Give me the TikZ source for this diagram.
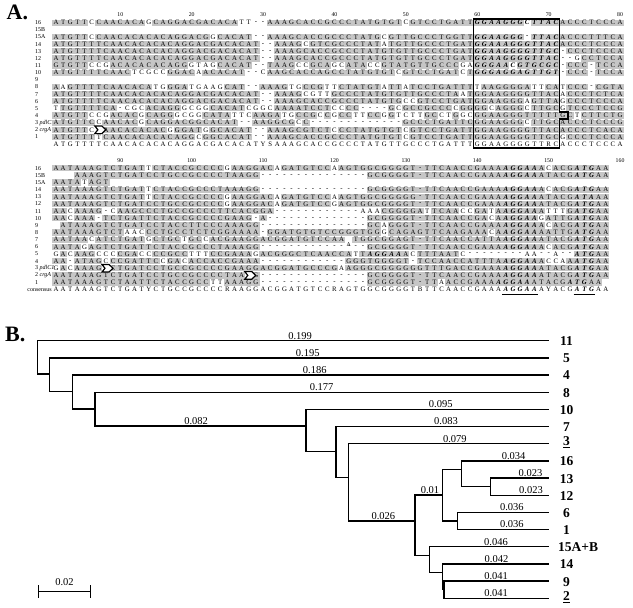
\documentclass[tikz,border=0pt]{standalone}
\usepackage{fontspec}
\setmainfont{Liberation Serif}
\usepackage{tikz}

% one alignment row: tag, base y, row index, letters
% upper case = shaded, lower case = plain, - gap, = shaded gap, . empty, > marker cell, ! bold on/off
\newcount\seqcol
\newif\ifseqbold
\newcommand\seqrow[4]{\seqcol=0 \seqboldfalse\def\seqtag{#1}%
  \pgfmathsetmacro\rowy{#2+#3*7.14}\seqread#4\relax}
\def\seqread#1{\ifx#1\relax\else\seqcell#1\expandafter\seqread\fi}
\def\seqcell#1{\ifx#1!\ifseqbold\seqboldfalse\else\seqboldtrue\fi
  \else\advance\seqcol by 1 \pgfmathsetmacro\cx{56+(\the\seqcol-1)*7.14}\seqput#1\fi}
\def\seqput#1{\ifx#1.\else\ifx#1>\else\ifx#1-\seqchar{-}\else\ifx#1=\seqshade\seqchar{-}\else
  \ifnum`#1=\lccode`#1\relax\seqchar{\uppercase{#1}}\else\seqshade\seqchar{#1}\fi\fi\fi\fi\fi}
\def\seqshade{\fill[seqgray] (\cx-3.6,\rowy-3.1) rectangle (\cx+3.6,\rowy+3.1);}
\def\seqchar#1{\ifseqbold\node[seqtxt,seqbf] (s\seqtag-\the\seqcol) at (\cx,\rowy) {#1};%
  \else\node[seqtxt] (s\seqtag-\the\seqcol) at (\cx,\rowy) {#1};\fi}
\newcommand\seqchev[3]{\pgfmathsetmacro\cx{56+(#1-1)*7.14}\pgfmathsetmacro\rowy{#2+#3*7.14}%
  \draw[chev] (\cx-4,\rowy-3.8) -- (\cx+3,\rowy-3.8) -- (\cx+7,\rowy) -- (\cx+3,\rowy+3.8) -- (\cx-4,\rowy+3.8) -- (\cx-1,\rowy) -- cycle;}

\begin{document}
\begin{tikzpicture}[x=1pt, y=-1pt,
	seqgray/.style={fill=gray!45},
	seqtxt/.style={font=\fontsize{6.8}{7}\selectfont, inner sep=0pt},
	seqbf/.style={font=\fontsize{6.8}{7}\selectfont\bfseries\itshape},
	rowlab/.style={font=\fontsize{6}{7}\selectfont, inner sep=0pt, anchor=west},
	rul/.style={font=\fontsize{5.8}{6}\selectfont, inner sep=0pt},
	chev/.style={draw, fill=white, line width=1.2pt, line join=miter},
	boxln/.style={draw, line width=1.3pt},
	panel/.style={font=\fontsize{22}{24}\selectfont\bfseries, inner sep=0pt, anchor=west},
	br/.style={line width=1.3pt, line cap=rect},
	bl/.style={font=\fontsize{10.5}{11}\selectfont, anchor=south, inner sep=0.9pt},
	leaf/.style={font=\fontsize{13.5}{14}\selectfont\bfseries, inner sep=0pt}]
	\useasboundingbox (0,0) rectangle (633,608);

	\node[panel] (pA) at (6.5,12.5) {A.};
	\node[panel] (pB) at (5,334) {B.};

	% block 1
	\foreach \n in {10,20,...,80}
		\node[rul] (ra\n) at ({56+(\n-1)*7.14},15) {\n};
	\foreach \lab [count=\k from 0] in {16,15B,15A,14,13,12,11,10,9,8,7,6,5,4,{3 \textit{pdlC1}},{2 \textit{crgA}},1}
		\node[rowlab] (la\k) at (35,{22.7+\k*7.14}) {\lab};

	\seqrow{a16}{22.7}{0}{ATGTTcCAAC ACAgCAGGAC GACACAtt-- AAAGCACCGC CCTATGTGTc GTCCTGATT !GGAAGGGcTTAC! ACCCTCCCA}
	\seqrow{a15A}{22.7}{2}{ATGTTcCAAC ACACACAGGA CGgCACAT-- AAAGCACCGC CCTATGcGTT GCCCTGGTT !GGAAGGG-TTAC! ACCCTTTCA}
	\seqrow{a14}{22.7}{3}{ATGTTTTCAA CACACACAGG ACGACACAT- -AAAGcGTCG CCCTATaTGT TGCCCTGAT !GGAAAGGGTTAC! ACCCTCCCA}
	\seqrow{a13}{22.7}{4}{ATGTTTTCAA CACACACAGG ACGACACAT- -AAAGCACCG CCCTATGTGT TGCCCTGAT !GGAAGGGGTTGC! -CCCTCCCA}
	\seqrow{a12}{22.7}{5}{ATGTTTTCAA CACACACAGG ACGACACAT- -AAAGCACCG CCCTATGTGT TGCCCTGAT !GGAAGGGGTTAC! --gCCTCCA}
	\seqrow{a11}{22.7}{6}{GTGTTccgAC ACACACAGGg tagCACAT-- TAAGccGCAg cATAccGTAT GTTGCCCga !GGGAAcGTGCGC! -CCC-TCCA}
	\seqrow{a10}{22.7}{7}{ATGTTTTCAA CtcgccGGAC aACACAT--c AAGCACCAGC CTATGTGTcG TCCTGATcT !GGGAGGAGTTGT! -CCC-TCCA}
	\seqrow{a8}{22.7}{9}{AaGTTTTCAA CACAtgGGAt gaagCAT--A AAGtgCCGtt CTATGTaTTa TCCTGATTT tAAGGGGAttCA tCCC-CGTA}
	\seqrow{a7}{22.7}{10}{ATGTTTTCAA CACACACAGG ACGACACAT- -AAAGcgttG CCCTATGTGT TGCCCTAaT GGAAGGGGTTAC aCCCTCTCA}
	\seqrow{a6}{22.7}{11}{ATGTTTTCAA CACACACAGG ACGACACAT- -AAAGCACCG CCCTATGTGc cGTCCTGAT GGAAGGGaGTTA gCCCTCCCA}
	\seqrow{a5}{22.7}{12}{tTGTTTTCA- cgcACAGGgc ggCACATcgg cAAAATCCTc cCC----GcG CCGCCCcGG GGcAGGGcTTGC gTCCCTCCG}
	\seqrow{a4}{22.7}{13}{ATGTTccgAC ACgCAGGgcg gCATAttcAA GAtgCCGcCg CCttCCgGtc ttGCctGgc GGAAGGGTTTTT GCtCTTCTG}
	\seqrow{a3}{22.7}{14}{ATGTTCcAAC ACgCAGGACG GCACAT--AA GGCGcC---- ---------G CCCTGATTC GGAAGGGcTTGC ACCCTCCCG}
	\seqrow{a2}{22.7}{15}{ATGTTc>AAC ACACACgGGA TgGCACAT-- AAAGCGTCTc CCTATGTGTc GTCCTGATT GGAAGGGGTTAC ACCCTCACA}
	\seqrow{a1}{22.7}{16}{ATGTTTtCAA CACACACAGG cGGCACAT-- AAAGCACCGC CCTATGTGTc GTCCTGATT GGAAGGGGTTGC gCCCTCCCA}
	\seqrow{acons}{22.7}{17}{atgttttcaa cacacacagg acgacacaty saaagcaccg ccctatgttg ccctgattt ggaaggggttrc accctccca}

	\draw[boxln] (473.5,19) -- (559.4,19) -- (559.4,112) -- (568,112) -- (568,119) -- (559.4,119) -- (559.4,148) -- (473.5,148) -- cycle;

	% block 2
	\foreach \n in {90,100,...,160}
		\node[rul] (rb\n) at ({56+(\n-81)*7.14},160.7) {\n};
	\foreach \lab [count=\k from 0] in {16,15B,15A,14,13,12,11,10,9,8,7,6,5,4,{3 \textit{pdlC1}},{2 \textit{crgA}},1}
		\node[rowlab] (lb\k) at (35,{168.3+\k*7.14}) {\lab};
	\node[rowlab, anchor=east] (lbcons) at (52,{168.3+17*7.14}) {consensus};

	\seqrow{b16}{168.3}{0}{AATAAAGTCT GATtCTACCG CCCCgAAGGA CaGATGTCCa AGTGGCGGGG T=TTCAACCG AAA!AGGAA!Ac ACG!ATG!AA}
	\seqrow{b15B}{168.3}{1}{...AAAGTCT GATCCTGCCG CCCCTAAGG- ---------- ----GCGGGG T=TTCAACCG AAA!AGGAA!AT ACG!ATG!AA}
	\seqrow{b15A}{168.3}{2}{AATAtAGT}
	\seqrow{b14}{168.3}{3}{AATAAAGTCT GATtCTACCG CCCTAAAGG- ---------- ----GCGGGG T=TTCAACCG AAA!AGGAA!Ac ACG!ATG!AA}
	\seqrow{b13}{168.3}{4}{AATAAAGTCT GATtCTACCG CCCCgAAGGA CaGATGTCCa AGTGGCGGGG G=TTCAACCG AAA!AGGAA!AT ACG!ATA!AA}
	\seqrow{b12}{168.3}{5}{AATAAAGTCT GATCCTGCCG CCCCgAAGGA CaGATGTCCg AGTGGCGGGG T=TTCAACCG AAA!AGGAA!AT ACG!ATG!AA}
	\seqrow{b11}{168.3}{6}{AAcAAAG-cA AGCCCTGCCG CCCTTCACGG A--------- ---aaaCGGG GAtTCAAccG AtA!AGGAA!At ttG!ATG!AA}
	\seqrow{b10}{168.3}{7}{AAcAAA-TCT GATTCTACCG CCCCGAAG-A ---------- ----GCGGGG T=TTCAACCG AcA!AGGAA!gA TTG!ATG!AA}
	\seqrow{b9}{168.3}{8}{.ATAAAGTCT GATCCTACCT TCCCAAAGG- ---------- ----GCaGGG T=TTCAACCG AAA!AGGAA!Ac ACG!ATG!AA}
	\seqrow{b8}{168.3}{9}{AATAAAGTCT aacCCTGCCT CTCGGAAAA- GGATGTGTCC GGGTGGgCAG AGTTCAAGAA AcA!AGGAA!AA TTG!ATG!AA}
	\seqrow{b7}{168.3}{10}{AATAAcATCT GATgCTGCtG CcACGAAGGA CGGATGTCCA A.TGGCGGAG T=TTCAACCA TTA!AGGAA!AT ACG!ATG!AA}
	\seqrow{b6}{168.3}{11}{AATAgAGTCT GATTCTACCG CCCTAAAGG- ---------- ----GCGGGG T=TTCAACCG AAA!AGGAA!Ac ACG!ATG!AA}
	\seqrow{b5}{168.3}{12}{gAcAAGcccC GAccCCGCCt ttCCGAAAgA CGGGCTCAAC CAtT!AGGAA!A cTTTAATc-- ------aa-- a--!ATG!AA}
	\seqrow{b4}{168.3}{13}{AA-ATAGcCC GATTCcGAcA CCACCGAAA- ---------- -GGGTGGGGT -TCCAACCAT TTA!AGGAA!Ac caA!ATG!AA}
	\seqrow{b3}{168.3}{14}{gAcAAAG>CT GATCCTGCCG CCCCGAAGGA CGGATGCCCG aAGGGCGGGG GGTTTGACCG AAA!AGGAA!AT ACG!ATG!AA}
	\seqrow{b2}{168.3}{15}{AATAAAGTCT GATCCTGCCG CCCCTAA>G- ---------- ----GCGGGG T=TTCAACCG AAA!AGGAA!AT ACG!ATG!AA}
	\seqrow{b1}{168.3}{16}{AATAAAGTCT AATTCTACCG CCttAAAGG- ---------- ----GCGGGG T=TTaACCGA AA!AGGAA!ATA CG!ATG!AA}
	\seqrow{bcons}{168.3}{17}{aataaagtct gatyctgccg ccccraagga cggatgtccr agtggcgggg tbttcaaccg aaa!aggaa!ay acg!atg!aa}

	\node[rul] (ins7) at ({56+41*7.14},{168.3+10*7.14+5}) {A};
	\draw[line width=0.9pt] ({56+63*7.14-3.5},294.2) -- ({56+67*7.14+3.5},294.2);
	\draw[line width=0.9pt] ({56+73*7.14-3.5},294.2) -- ({56+75*7.14+3.5},294.2);

	\seqchev{7}{22.7}{15}
	\seqchev{8}{168.3}{14}
	\seqchev{28}{168.3}{15}

	% tree
	\foreach \nm/\yy in {11/340.7,5/357.9,4/375.0,8/392.2,10/409.4,7/426.6,16/460.9,13/478.1,12/495.2,6/512.4,1/529.6,14/563.9,9/581.1}{
		\coordinate (e\nm) at (548.3,\yy);
		\node[leaf] (t\nm) at (566.5,\yy+0.5) {\nm};
	}
	\coordinate (e3) at (548.3,443.7);
	\node[leaf] (t3) at (566.5,442.5) {\underline{3}};
	\coordinate (e2) at (548.3,598.3);
	\node[leaf] (t2) at (566.5,597.5) {\underline{2}};
	\coordinate (e15AB) at (548.3,546.7);
	\node[leaf, anchor=west] (t15AB) at (558,547.2) {15A+B};

	\coordinate (r) at (37.7,357.4);
	\coordinate (n2) at (49.3,374);
	\coordinate (n3) at (72.7,391.7);
	\coordinate (n4) at (95,409);
	\coordinate (n5) at (306,426);
	\coordinate (n6) at (336,451.7);
	\coordinate (n7) at (348.3,477.3);
	\coordinate (n8) at (415,521);
	\coordinate (n9) at (442.7,495);
	\coordinate (n10) at (461.7,469.3);
	\coordinate (n11) at (490.7,486.7);
	\coordinate (n12) at (457.3,521);
	\coordinate (n13) at (429.3,555.7);
	\coordinate (n14) at (442.7,572.7);
	\coordinate (n15) at (444,589.7);

	\draw[br] (r |- e11) -- (r |- n2);
	\draw[br] (r |- e11) -- node[bl, pos=.514] {0.199} (e11);
	\draw[br] (r |- n2) -- (n2);

	\draw[br] (n2 |- e5) -- (n2 |- n3);
	\draw[br] (n2 |- e5) -- node[bl, pos=.518] {0.195} (e5);
	\draw[br] (n2 |- n3) -- (n3);

	\draw[br] (n3 |- e4) -- (n3 |- n4);
	\draw[br] (n3 |- e4) -- node[bl, pos=.509] {0.186} (e4);
	\draw[br] (n3 |- n4) -- (n4);

	\draw[br] (n4 |- e8) -- (n4 |- n5);
	\draw[br] (n4 |- e8) -- node[bl, pos=.5] {0.177} (e8);
	\draw[br] (n4 |- n5) -- node[bl, pos=.479] {0.082} (n5);

	\draw[br] (n5 |- e10) -- (n5 |- n6);
	\draw[br] (n5 |- e10) -- node[bl, pos=.556] {0.095} (e10);
	\draw[br] (n5 |- n6) -- (n6);

	\draw[br] (n6 |- e7) -- (n6 |- n7);
	\draw[br] (n6 |- e7) -- node[bl, pos=.518] {0.083} (e7);
	\draw[br] (n6 |- n7) -- (n7);

	\draw[br] (n7 |- e3) -- (n7 |- n8);
	\draw[br] (n7 |- e3) -- node[bl, pos=.533] {0.079} (e3);
	\draw[br] (n7 |- n8) -- node[bl, pos=.525] {0.026} (n8);

	\draw[br] (n8 |- n9) -- (n8 |- n13);
	\draw[br] (n8 |- n9) -- node[bl, pos=.54] {0.01} (n9);
	\draw[br] (n8 |- n13) -- (n13);

	\draw[br] (n9 |- n10) -- (n9 |- n12);
	\draw[br] (n9 |- n10) -- (n10);
	\draw[br] (n9 |- n12) -- (n12);

	\draw[br] (n10 |- e16) -- (n10 |- n11);
	\draw[br] (n10 |- e16) -- node[bl, pos=.6] {0.034} (e16);
	\draw[br] (n10 |- n11) -- (n11);

	\draw[br] (n11 |- e13) -- (n11 |- e12);
	\draw[br] (n11 |- e13) -- node[bl, pos=.69] {0.023} (e13);
	\draw[br] (n11 |- e12) -- node[bl, pos=.7] {0.023} (e12);

	\draw[br] (n12 |- e6) -- (n12 |- e1);
	\draw[br] (n12 |- e6) -- node[bl, pos=.6] {0.036} (e6);
	\draw[br] (n12 |- e1) -- node[bl, pos=.6] {0.036} (e1);

	\draw[br] (n13 |- e15AB) -- (n13 |- n14);
	\draw[br] (n13 |- e15AB) -- node[bl, pos=.56] {0.046} (e15AB);
	\draw[br] (n13 |- n14) -- (n14);

	\draw[br] (n14 |- e14) -- (n14 |- n15);
	\draw[br] (n14 |- e14) -- node[bl, pos=.51] {0.042} (e14);
	\draw[br] (n14 |- n15) -- (n15);

	\draw[br] (n15 |- e9) -- (n15 |- e2);
	\draw[br] (n15 |- e9) -- node[bl, pos=.5] {0.041} (e9);
	\draw[br] (n15 |- e2) -- node[bl, pos=.5] {0.041} (e2);

	% scale bar
	\coordinate (sa) at (38.3,591.7);
	\coordinate (sb) at (90.7,591.7);
	\draw[br] (sa) -- node[bl, yshift=5pt] {0.02} (sb);
	\draw[br] ([yshift=-5.6pt]sa) -- ([yshift=5.6pt]sa);
	\draw[br] ([yshift=-5.6pt]sb) -- ([yshift=5.6pt]sb);
\end{tikzpicture}
\end{document}
